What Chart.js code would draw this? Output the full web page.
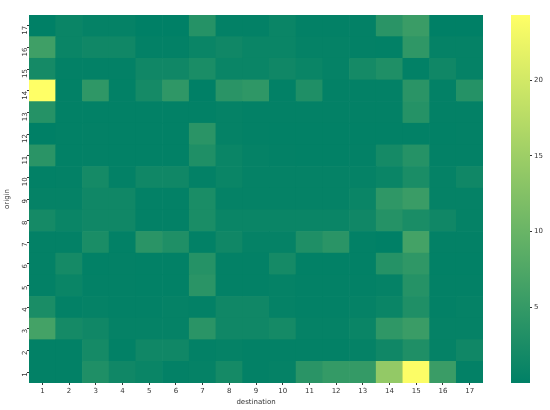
<!DOCTYPE html>
<html>
<head>
<meta charset="utf-8">
<script src="https://cdn.jsdelivr.net/npm/chart.js@4"></script>
<style>
  html, body { margin: 0; padding: 0; background: #fff; }
  #wrap { position: relative; width: 550px; height: 410px; }
  #wrap canvas { position: absolute; left: 0; top: 0; }
</style>
</head>
<body>
<div id="wrap">
  <canvas id="heat" width="550" height="410"></canvas>
  <canvas id="cbar" width="550" height="410"></canvas>
</div>
<script>
// ===== data =====
const destinationLabels = ['1','2','3','4','5','6','7','8','9','10','11','12','13','14','15','16','17'];
const originLabels = ['1','2','3','4','5','6','7','8','9','10','11','12','13','14','15','16','17'];

// one row per origin (1 -> 17), one value per destination (1 -> 17)
const values = [
  [0.2, 0.2, 3, 1.5, 1, 0.3, 0.5, 2, 0.3, 0.5, 4, 5, 5, 14, 24, 5.5, 0.3],
  [0.2, 0.2, 2, 0.2, 1.5, 1.5, 0.3, 0.5, 0.3, 0.3, 0.3, 0.3, 0.5, 1.5, 3, 0.5, 1.5],
  [6.5, 2, 1.5, 0.5, 0.5, 0.5, 4, 1.5, 1.5, 2, 0.5, 0.5, 1, 4.5, 5.5, 0.5, 0.5],
  [2.5, 0.3, 0.5, 0.3, 0.3, 0.5, 0.3, 1.5, 1.5, 0.5, 0.3, 0.3, 0.5, 1, 3, 0.3, 0.5],
  [0.3, 1, 0.3, 0.3, 0.2, 0.2, 4, 0.3, 0.3, 0.5, 0.3, 0.3, 0.3, 0.5, 3.5, 0.3, 0.3],
  [0.3, 2, 0.2, 0.3, 0.2, 0.2, 3.5, 0.3, 0.3, 2, 0.2, 0.2, 0.2, 3.5, 4.5, 0.2, 0.2],
  [0.3, 0.3, 2.5, 0.2, 4, 3, 0.2, 1.5, 0.5, 0.5, 3, 4, 0.2, 0, 6.5, 0.3, 0.3],
  [2, 1, 1.5, 1.5, 0.3, 0.3, 2.5, 1, 1, 1, 1, 1, 1.5, 3.5, 2.5, 1.5, 0.5],
  [0.5, 0.5, 1.5, 1.5, 0.3, 0.3, 2.5, 0.5, 0.5, 0.5, 0.5, 0.5, 1, 4.5, 5.5, 0.5, 0.5],
  [0.2, 0.3, 2, 0.3, 1.5, 1.5, 0.3, 1, 0.5, 0.5, 0.5, 0.5, 0.5, 1, 2.5, 0.5, 1.5],
  [4, 0.2, 0.3, 0.2, 0.2, 0.2, 3, 1, 0.5, 0.3, 0.2, 0.2, 0.3, 2, 3.5, 0.3, 0.3],
  [0, 0.2, 0.3, 0.2, 0.2, 0.2, 4, 0.5, 0.3, 0.2, 0.2, 0.2, 0.2, 0.2, 0.2, 0.2, 0.3],
  [3.5, 0.2, 0.2, 0.2, 0.2, 0.2, 0.2, 0.5, 0.3, 0.3, 0.3, 0.3, 0.3, 0.3, 3.5, 0.3, 0.3],
  [24.3, 0.2, 4.5, 0.2, 2, 4.5, 0, 4, 4.5, 0.2, 3, 0.3, 0.3, 0.3, 4, 0.3, 3.5],
  [2, 0.3, 0.3, 0.3, 1.5, 1.5, 2.5, 1, 1, 1.5, 1, 0.5, 2, 3, 0.2, 1.5, 0.5],
  [6, 1, 1.5, 1.5, 0.3, 0.3, 1, 1.5, 1, 1, 0.5, 0.5, 0.3, 0.2, 4.5, 0.5, 0.5],
  [0, 1, 0.5, 0.5, 0, 0, 3.5, 0.3, 0.3, 1, 0.3, 0.3, 0.3, 4, 5.5, 0, 0]
];

const colorbarTicks = [5, 10, 15, 20];

// ===== colour map ("summer") =====
const vmin = Math.min(...values.flat());
const vmax = Math.max(...values.flat());

function summer(t) {
  t = Math.max(0, Math.min(1, t));
  const r = Math.round(255 * t);
  const g = Math.round(255 * (0.5 + 0.5 * t));
  const b = Math.round(255 * 0.4);
  return `rgb(${r},${g},${b})`;
}
function colorFor(v) { return summer((v - vmin) / (vmax - vmin)); }

const FONT = { family: 'DejaVu Sans', size: 7 };
const TEXT = '#333';

// ===== heatmap (stacked unit bars, one dataset per origin) =====
const datasets = originLabels.map((lab, r) => ({
  label: lab,
  data: destinationLabels.map(() => 1),
  backgroundColor: values[r].map(colorFor),
  borderWidth: 0,
  barPercentage: 1,
  categoryPercentage: 1
}));

new Chart(document.getElementById('heat'), {
  type: 'bar',
  data: { labels: destinationLabels, datasets: datasets },
  options: {
    responsive: false,
    animation: false,
    layout: { padding: { top: 15, right: 67, left: 3, bottom: 4 } },
    plugins: { legend: { display: false }, tooltip: { enabled: false } },
    scales: {
      x: {
        stacked: true,
        grid: { drawOnChartArea: false, drawTicks: true, tickLength: 2, offset: false, color: '#333' },
        border: { display: false },
        ticks: { font: FONT, color: TEXT, padding: 2, maxRotation: 0 },
        title: { display: true, text: 'destination', font: FONT, color: TEXT, padding: { top: 1, bottom: 0 } },
        afterFit: s => { s.height = 23; }
      },
      y: {
        stacked: true,
        min: 0,
        max: originLabels.length,
        grid: { drawOnChartArea: false, drawTicks: true, tickLength: 2, color: '#333' },
        border: { display: false },
        afterBuildTicks: s => { s.ticks = originLabels.map((l, i) => ({ value: i + 0.5 })); },
        ticks: {
          font: FONT, color: TEXT, padding: 2, minRotation: 90, maxRotation: 90,
          callback: (v, i) => originLabels[i]
        },
        title: { display: true, text: 'origin', font: FONT, color: TEXT, padding: { top: 0, bottom: 1 } },
        afterFit: s => { s.width = 26; }
      }
    }
  }
});

// ===== colour bar =====
new Chart(document.getElementById('cbar'), {
  type: 'bar',
  data: {
    labels: [''],
    datasets: [{
      data: [[vmin, vmax]],
      borderWidth: 0,
      borderSkipped: false,
      barPercentage: 1,
      categoryPercentage: 1,
      backgroundColor: ctx => {
        const { chart } = ctx;
        const area = chart.chartArea;
        if (!area) return summer(0);
        const g = chart.ctx.createLinearGradient(0, area.bottom, 0, area.top);
        for (let i = 0; i <= 10; i++) g.addColorStop(i / 10, summer(i / 10));
        return g;
      }
    }]
  },
  options: {
    responsive: false,
    animation: false,
    layout: { padding: { top: 15, bottom: 27, left: 511, right: 0 } },
    plugins: { legend: { display: false }, tooltip: { enabled: false } },
    scales: {
      x: { display: false },
      y: {
        position: 'right',
        min: vmin,
        max: vmax,
        grid: { drawOnChartArea: false, drawTicks: true, tickLength: 2, color: '#333' },
        border: { display: false },
        afterBuildTicks: s => { s.ticks = colorbarTicks.map(v => ({ value: v })); },
        ticks: { font: FONT, color: TEXT, padding: 2 },
        afterFit: s => { s.width = 20; }
      }
    }
  }
});
</script>
</body>
</html>
